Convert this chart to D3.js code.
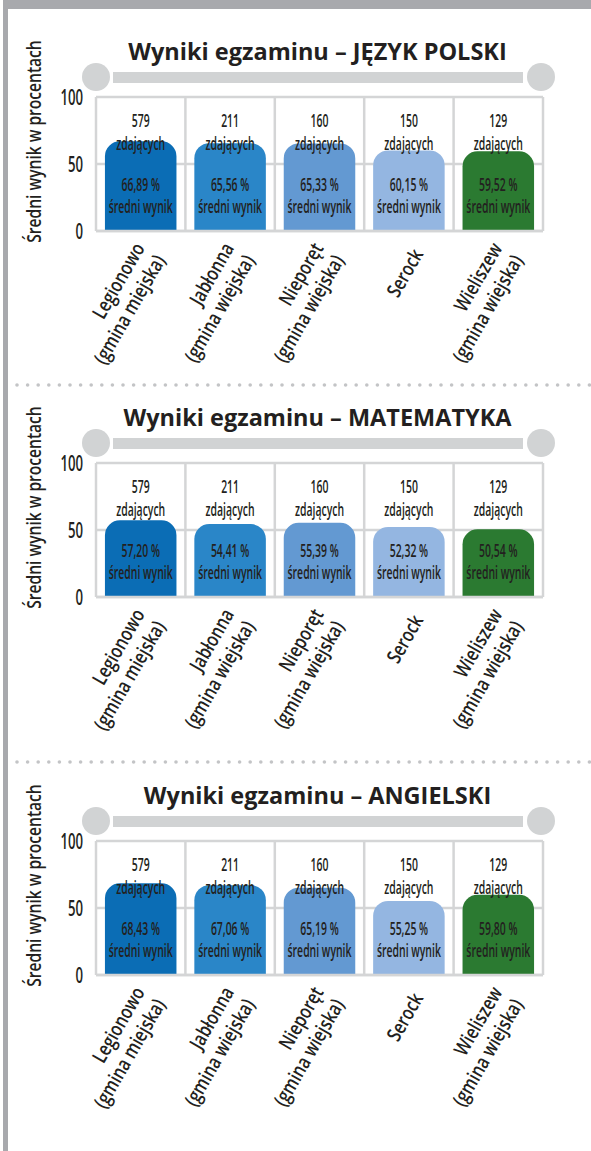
<!DOCTYPE html>
<html>
<head>
<meta charset="utf-8">
<script src="https://cdn.jsdelivr.net/npm/d3@7"></script>
<style>
  body { margin: 0; background: #fff; }
  svg { display: block; font-family: "Open Sans", sans-serif; }
</style>
</head>
<body>
<svg width="591" height="1151"></svg>
<script>
// **** Data ****
var gminy = ["Legionowo", "Jabłonna", "Nieporęt", "Serock", "Wieliszew"];
var typGminy = ["(gmina miejska)", "(gmina wiejska)", "(gmina wiejska)", "", "(gmina wiejska)"];
var zdajacy = [579, 211, 160, 150, 129];
var przedmioty = ["JĘZYK POLSKI", "MATEMATYKA", "ANGIELSKI"];
var wynikPolski = [66.89, 65.56, 65.33, 60.15, 59.52];
var wynikMatematyka = [57.20, 54.41, 55.39, 52.32, 50.54];
var wynikAngielski = [68.43, 67.06, 65.19, 55.25, 59.80];
var yTicks = [0, 50, 100];

// **** Styles and layout ****
var wyniki = [wynikPolski, wynikMatematyka, wynikAngielski];
var kolory = ["#0b6db5", "#2a86c8", "#6399d2", "#94b6e1", "#2b7a31"];
var panelTop = [0, 366, 744];   // vertical offset of each of the three panels
var ramka = "#a8a9ad";
var jasny = "#d1d3d4";
var tekst = "#231f20";

var svg = d3.select("svg");

// gray frame: top band and left edge
svg.append("rect").attr("x", 3).attr("y", 0).attr("width", 588).attr("height", 9).attr("fill", ramka);
svg.append("rect").attr("x", 3).attr("y", 0).attr("width", 5).attr("height", 1151).attr("fill", ramka);

// dotted separators between the panels
[385, 762].forEach(function(yy) {
    svg.append("g").selectAll("circle")
        .data(d3.range(17, 591, 10.6))
        .enter().append("circle")
        .attr("cx", function(d) { return d; })
        .attr("cy", yy)
        .attr("r", 1.8)
        .attr("fill", "#c3c4c6");
});

var x = d3.scaleBand().domain(gminy).range([96, 543]).padding(0);
var y = d3.scaleLinear().domain([0, 100]).range([231, 97]);

// polish number format: 66,89
var fmt = d3.formatLocale({ decimal: ",", thousands: " ", grouping: [3], currency: ["", ""] }).format(".2f");

// condensed text = Open Sans squeezed horizontally
function squeezed(g, tx, ty, size, sx, str, anchor) {
    return g.append("text")
        .attr("transform", "translate(" + tx + "," + ty + ") scale(" + sx + ",1)")
        .attr("text-anchor", anchor || "middle")
        .attr("font-size", size)
        .attr("font-weight", 600)
        .attr("fill", tekst)
        .text(str);
}

// rounded top corners, flat bottom
function barPath(x0, y0, w, h, r) {
    return "M" + x0 + "," + (y0 + h) +
        "V" + (y0 + r) +
        "A" + r + "," + r + " 0 0 1 " + (x0 + r) + "," + y0 +
        "H" + (x0 + w - r) +
        "A" + r + "," + r + " 0 0 1 " + (x0 + w) + "," + (y0 + r) +
        "V" + (y0 + h) + "Z";
}

wyniki.forEach(function(values, p) {
    var g = svg.append("g").attr("transform", "translate(0," + panelTop[p] + ")");

    // title with the rounded gray rule below it
    g.append("text")
        .attr("x", 317.5).attr("y", 60)
        .attr("text-anchor", "middle")
        .attr("font-size", 23.5)
        .attr("font-weight", 700)
        .attr("fill", tekst)
        .text("Wyniki egzaminu – " + przedmioty[p]);
    g.append("rect").attr("x", 113).attr("y", 72).attr("width", 410).attr("height", 11).attr("fill", jasny);
    g.append("circle").attr("cx", 96).attr("cy", 77).attr("r", 14).attr("fill", jasny);
    g.append("circle").attr("cx", 541).attr("cy", 77).attr("r", 14).attr("fill", jasny);

    // y axis title
    g.append("text")
        .attr("transform", "translate(41," + 141.5 + ") rotate(-90) scale(0.82,1)")
        .attr("text-anchor", "middle")
        .attr("font-size", 19)
        .attr("font-weight", 600)
        .attr("fill", tekst)
        .text("Średni wynik w procentach");

    // grid: frame, middle line and band borders
    var grid = g.append("g").attr("stroke", "#d4d5d6").attr("stroke-width", 2.5).attr("fill", "none");
    grid.selectAll("line.h")
        .data(yTicks)
        .enter().append("line")
        .attr("x1", x.range()[0]).attr("x2", x.range()[1])
        .attr("y1", function(d) { return y(d); })
        .attr("y2", function(d) { return y(d); });
    grid.selectAll("line.v")
        .data(gminy.concat(["koniec"]))
        .enter().append("line")
        .attr("x1", function(d, i) { return x.range()[0] + i * x.step(); })
        .attr("x2", function(d, i) { return x.range()[0] + i * x.step(); })
        .attr("y1", y(100)).attr("y2", y(0));

    // y axis ticks
    var axis = g.append("g")
        .attr("transform", "translate(" + x.range()[0] + ",0)")
        .call(d3.axisLeft(y).tickValues(yTicks).tickSize(0).tickPadding(13));
    axis.select(".domain").remove();
    axis.selectAll("text")
        .attr("x", -13 / 0.6)
        .attr("transform", "scale(0.6,1)")
        .attr("font-family", "Open Sans")
        .attr("font-size", 22)
        .attr("font-weight", 600)
        .attr("fill", tekst);

    // bars
    var bw = x.bandwidth() * 0.8;
    g.selectAll("path.bar")
        .data(values)
        .enter().append("path")
        .attr("class", "bar")
        .attr("fill", function(d, i) { return kolory[i]; })
        .attr("d", function(d, i) {
            var x0 = x(gminy[i]) + x.bandwidth() * 0.1;
            return barPath(x0, y(d), bw, y(0) - y(d), 15);
        });

    // bottom frame line over the bar feet
    g.append("line")
        .attr("x1", x.range()[0]).attr("x2", x.range()[1])
        .attr("y1", y(0)).attr("y2", y(0))
        .attr("stroke", "#d4d5d6").attr("stroke-width", 2.5);

    // texts inside each band
    values.forEach(function(v, i) {
        var cx = x(gminy[i]) + x.bandwidth() / 2;
        squeezed(g, cx, y(100) + 30, 18, 0.58, zdajacy[i]);
        squeezed(g, cx, y(100) + 53, 18, 0.58, "zdających");
        squeezed(g, cx, y(100) + 94, 18, 0.58, fmt(v) + " %");
        squeezed(g, cx, y(100) + 116, 18, 0.58, "średni wynik");

        // rotated category label
        var lab = g.append("g")
            .attr("transform", "translate(" + (cx + 15) + "," + (y(0) + 23) + ") rotate(-60) scale(0.8,1)");
        var lines = typGminy[i] ? [gminy[i], typGminy[i]] : [gminy[i]];
        lab.selectAll("text")
            .data(lines)
            .enter().append("text")
            .attr("text-anchor", "end")
            .attr("font-size", 20)
            .attr("font-weight", 600)
            .attr("fill", tekst)
            .attr("y", function(d, k) { return lines.length === 1 ? 0 : (k === 0 ? -12 : 12); })
            .text(function(d) { return d; });
    });
});
</script>
</body>
</html>
